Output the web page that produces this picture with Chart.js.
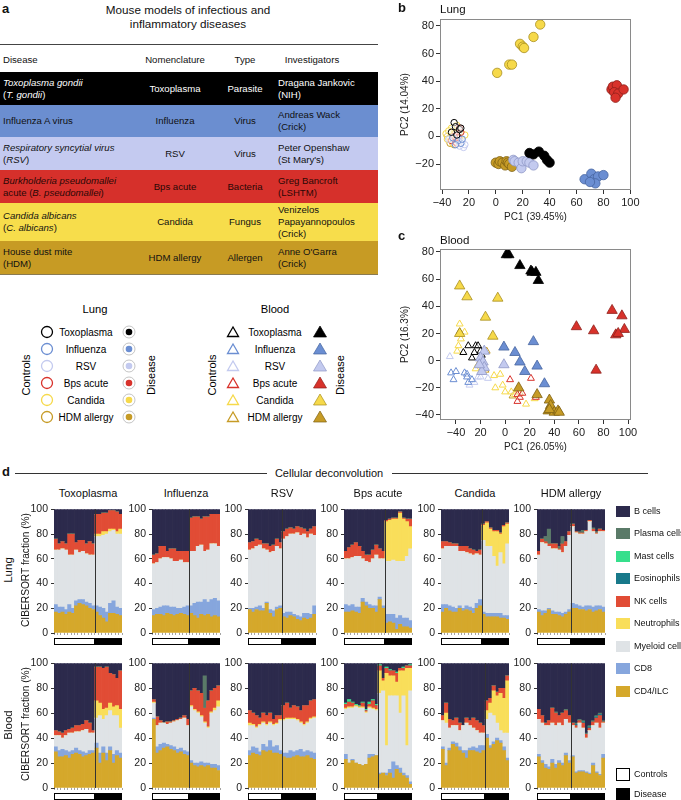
<!DOCTYPE html>
<html>
<head>
<meta charset="utf-8">
<script src="https://cdn.jsdelivr.net/npm/chart.js@4.4.0/dist/chart.umd.min.js"></script>
<style>
  body { margin: 0; background: #fff; font-family: "Liberation Sans", Arial, sans-serif; color: #111; }
  #wrap { position: relative; width: 681px; height: 800px; overflow: hidden; }
  .t { position: absolute; white-space: nowrap; line-height: 1.15; }
  canvas { position: absolute; }
  .row { position: absolute; left: 0; width: 378px; font-size: 9.6px; line-height: 12px; }
  .cell { position: absolute; top: 0; height: 100%; display: flex; align-items: center; }
  .c { justify-content: center; text-align: center; }
  .sw { position: absolute; width: 14px; height: 11px; }
</style>
</head>
<body>
<div id="wrap">
  <!-- panel a: table -->
  <div class="t" style="left:2px;top:9px;transform:translateY(-50%);font-weight:bold;font-size:13px">a</div>
  <div class="t" style="left:188px;top:17px;transform:translate(-50%,-50%);text-align:center;font-size:11.7px;line-height:14px">Mouse models of infectious and<br>inflammatory diseases</div>
  <div style="position:absolute;left:0;top:44px;width:378px;height:1px;background:#444"></div>
  <div class="row" style="top:50px;height:20px">
    <div class="cell" style="left:3px">Disease</div>
    <div class="cell c" style="left:135px;width:80px">Nomenclature</div>
    <div class="cell c" style="left:215px;width:60px">Type</div>
    <div class="cell c" style="left:262px;width:100px">Investigators</div>
  </div>
  <div class="row" style="top:72px;height:33px;background:#000;color:#fff">
    <div class="cell" style="left:3px"><span><i>Toxoplasma gondii</i><br>(<i>T. gondii</i>)</span></div>
    <div class="cell c" style="left:135px;width:80px">Toxoplasma</div>
    <div class="cell c" style="left:215px;width:60px">Parasite</div>
    <div class="cell" style="left:278px"><span>Dragana Jankovic<br>(NIH)</span></div>
  </div>
  <div class="row" style="top:105px;height:32px;background:#6b8ed0">
    <div class="cell" style="left:3px">Influenza A virus</div>
    <div class="cell c" style="left:135px;width:80px">Influenza</div>
    <div class="cell c" style="left:215px;width:60px">Virus</div>
    <div class="cell" style="left:278px"><span>Andreas Wack<br>(Crick)</span></div>
  </div>
  <div class="row" style="top:137px;height:33px;background:#c4caf0">
    <div class="cell" style="left:3px"><span><i>Respiratory syncytial virus</i><br>(<i>RSV</i>)</span></div>
    <div class="cell c" style="left:135px;width:80px">RSV</div>
    <div class="cell c" style="left:215px;width:60px">Virus</div>
    <div class="cell" style="left:278px"><span>Peter Openshaw<br>(St Mary's)</span></div>
  </div>
  <div class="row" style="top:170px;height:33px;background:#d6302b;color:#2a0806">
    <div class="cell" style="left:3px"><span><i>Burkholderia pseudomallei</i><br>acute (<i>B. pseudomallei</i>)</span></div>
    <div class="cell c" style="left:135px;width:80px">Bps acute</div>
    <div class="cell c" style="left:215px;width:60px">Bacteria</div>
    <div class="cell" style="left:278px"><span>Greg Bancroft<br>(LSHTM)</span></div>
  </div>
  <div class="row" style="top:203px;height:38px;background:#f7dd4b">
    <div class="cell" style="left:3px"><span><i>Candida albicans</i><br>(<i>C. albicans</i>)</span></div>
    <div class="cell c" style="left:135px;width:80px">Candida</div>
    <div class="cell c" style="left:215px;width:60px">Fungus</div>
    <div class="cell" style="left:278px"><span>Venizelos<br>Papayannopoulos<br>(Crick)</span></div>
  </div>
  <div class="row" style="top:241px;height:33px;background:#c79b24;border-bottom:1px solid #8a7a50">
    <div class="cell" style="left:3px"><span>House dust mite<br>(HDM)</span></div>
    <div class="cell c" style="left:135px;width:80px">HDM allergy</div>
    <div class="cell c" style="left:215px;width:60px">Allergen</div>
    <div class="cell" style="left:278px"><span>Anne O'Garra<br>(Crick)</span></div>
  </div>

  <!-- legend for b / c -->
  <svg id="pcaLegend" width="380" height="140" style="position:absolute;left:0;top:290px"
       font-family="Liberation Sans, Arial, sans-serif" font-size="10"></svg>

  <!-- panels b, c -->
  <canvas id="pcaLung" width="250" height="225" style="left:395px;top:0"></canvas>
  <canvas id="pcaBlood" width="250" height="225" style="left:395px;top:230px"></canvas>
</div>

<script>
// ---------- panel b / c data (PC1, PC2) ----------
const groups = ['Toxoplasma', 'Influenza', 'RSV', 'Bps acute', 'Candida', 'HDM allergy'];
const groupColors = ['#000000', '#6b8ed2', '#c3caef', '#d8322b', '#f6d94a', '#c69b26'];
const groupEdges = ['#000000', '#46659f', '#8f98c6', '#8e1f1a', '#a88e1e', '#7f6214'];

const lungDisease = [
  [[25,-12],[28,-13],[32,-11],[36,-14],[38,-17],[40,-19]],
  [[66,-31],[71,-27],[73,-31],[76,-29],[80,-28],[74,-34],[70,-33]],
  [[13,-17],[14,-18],[17,-19],[19,-23],[20,-18],[23,-18],[25,-19],[28,-21]],
  [[86,34],[87,36],[90,37],[88,32],[91,31],[95,34],[89,28]],
  [[1,46],[10,52],[12,52],[18,67],[20,65],[21,64],[28,72],[33,81]],
  [[0,-19],[2,-20],[3,-18],[5,-19],[7,-21],[8,-18],[9,-19],[10,-20],[12,-22]]
];
const lungControls = [
  [[-31,10],[-30,7],[-27,5],[-33,3],[-29,1],[-26,6]],
  [[-26,-5],[-28,-3],[-30,-6],[-25,-2],[-32,-1]],
  [[-24,-8],[-25,-4],[-27,-7],[-35,-2],[-23,-6]],
  [[-27,6],[-30,-4],[-33,-3],[-28,-1],[-26,3],[-31,0],[-29,-5]],
  [[-37,2],[-36,-2],[-33,6],[-32,-5],[-35,4],[-30,2],[-23,1],[-29,8],[-34,-1]],
  [[-34,-5],[-31,-6],[-29,-3],[-27,-1],[-33,0],[-36,0],[-30,3]]
];
const bloodDisease = [
  [[1,78],[3,78],[12,70],[21,66],[22,65],[25,65],[27,59]],
  [[-1,10],[8,6],[12,-1],[16,-8],[23,14],[26,-4],[32,-17]],
  [[-17,7],[-20,2],[-18,-1],[-17,-5],[-19,-8],[-1,-3],[-21,-3]],
  [[58,25],[72,22],[87,37],[95,33],[97,23],[90,19],[92,20],[74,-7]],
  [[-37,55],[-31,47],[-6,46],[-16,32],[-10,18],[-37,20]],
  [[11,-20],[26,-25],[36,-29],[37,-33],[35,-37],[40,-38],[43,-37],[44,-38],[36,-36]]
];
const bloodControls = [
  [[-37,21],[-34,6],[-30,11],[-27,2],[-24,11],[-22,11],[-20,7],[-25,6],[-19,4]],
  [[-44,-9],[-40,-8],[-42,-14],[-33,-9],[-31,-10],[-30,-16],[-27,-14],[-31,-12]],
  [[-45,3],[-25,-16],[-22,-12],[-20,-12],[-14,-13],[-29,-18]],
  [[4,-14],[21,-13],[10,-25],[12,-27],[10,-30],[14,-24],[25,-27]],
  [[-37,27],[-33,21],[-36,16],[-38,11],[-39,7],[-24,-6],[-9,-11],[-4,-10],[-8,-20],[-2,-18],[0,-23],[5,-23],[8,-25],[17,-32],[24,-28]],
  [[-22,-3],[-15,7],[-16,-7],[-18,-5],[6,-26],[12,-24]]
];

const pcaXTicks = [-40, -20, 0, 20, 40, 60, 80, 100];
const pcaXTickLabels = ['\u221240', '20', '0', '20', '40', '60', '80', '100'];
const lungYTicks = [-20, 0, 20, 40, 60, 80];
const lungYTickLabels = ['\u221220', '0', '20', '40', '60', '80'];
const bloodYTicks = [-40, -20, 0, 20, 40, 60, 80];
const bloodYTickLabels = ['\u221240', '\u221220', '0', '20', '40', '60', '80'];

// ---------- panel d data: cumulative tops (%) per sample, one row per model ----------
const panelNames = ['Toxoplasma', 'Influenza', 'RSV', 'Bps acute', 'Candida', 'HDM allergy'];
const sampleLabels = ['1','2','3','4','5','6','7','8','9','10','11','12','13','14','15','16','17','18','19','20'];
const lungControlsN = [12, 11, 10, 12, 12, 10];
const bloodControlsN = [12, 11, 10, 10, 13, 10];

const lungCD4Top = [
  [17,16,17,15,17,16,22,24,23,22,20,19, 17,14,12,9,16,16,15,14],
  [14,15,15,14,16,15,14,15,16,15,14, 16,14,12,15,14,15,13,14,13],
  [19,17,19,18,18,24,16,13,19,20, 13,12,14,13,11,10,12,11,12,15],
  [17,17,18,17,16,25,22,20,20,17,27,20, 8,9,8,3,7,5,5,4],
  [17,20,18,17,17,20,18,19,18,16,20,22, 15,13,13,13,13,12,12,11],
  [17,14,16,19,15,15,14,13,15,17, 20,20,19,19,18,19,17,18,19,17]
];
const lungCD8Top = [
  [23,21,21,19,23,20,26,27,27,25,24,22, 22,21,20,17,24,26,21,20],
  [19,20,21,22,22,21,21,20,20,21,22, 22,24,25,25,27,25,27,28,26],
  [20,20,21,22,20,25,19,18,21,22, 16,17,17,15,14,13,16,16,15,22],
  [23,22,23,21,21,28,25,23,22,22,29,22, 15,15,15,12,14,12,12,10],
  [23,23,22,21,20,22,20,22,21,20,24,27, 17,16,16,16,16,16,14,14],
  [19,18,18,20,18,17,17,16,17,19, 24,23,22,21,22,22,21,22,22,21]
];
const lungMyeloidTop = [
  [67,67,68,67,63,63,67,65,66,64,63,63, 78,78,79,80,82,83,80,80],
  [56,57,60,61,61,60,58,58,59,57,57, 66,66,70,71,66,67,72,72,70],
  [67,68,70,71,68,67,65,66,70,68, 76,78,80,80,81,79,80,77,80,79],
  [60,60,61,62,62,60,58,57,60,63,60,60, 58,58,59,58,58,58,62,68],
  [68,70,70,70,70,66,66,65,64,63,64,63, 75,70,70,62,54,65,56,72],
  [63,73,72,70,68,68,67,65,70,79, 86,81,80,80,82,90,82,80,82,82]
];
const lungNeutroTop = [
  [67,67,68,67,63,63,67,65,66,64,63,63, 80,80,82,82,84,84,82,84],
  [],
  [],
  [60,60,61,62,62,60,58,57,60,63,60,60, 90,91,92,92,97,92,90,86],
  [68,70,70,70,70,66,66,65,64,63,64,63, 87,89,84,82,82,80,86,88],
  []
];
const lungNKTop = [
  [76,72,74,72,80,80,73,75,75,72,74,72, 96,96,97,97,99,99,98,96],
  [63,64,70,70,66,68,68,66,66,66,66, 93,94,94,92,94,94,96,96,96],
  [73,74,76,75,72,72,70,71,76,73, 82,84,85,84,86,85,84,82,84,86],
  [66,69,71,73,70,66,63,63,67,71,68,66, 91,92,93,93,98,93,92,92],
  [74,74,73,72,72,70,70,70,68,67,66,67, 88,90,85,83,83,81,87,89],
  [66,76,74,72,72,72,68,72,74,82, 88,82,81,81,83,91,84,81,84,83]
];
// thin layers (%), stacked above NK cells
const lungEos = [[], [], [], [], [], []];
const lungMast = [[], [], [], [], [], []];
const lungPlasma = [[], [], [], [], [], [0,0,4,12,0,0,2,6,0,0, 0,0,1,2,0,0,1,1,0,0]];

const bloodCD4Top = [
  [29,25,25,26,24,27,28,27,25,26,27,28, 32,20,28,22,30,20,26,24],
  [55,28,30,32,33,31,30,28,29,27,26, 20,18,17,18,17,18,16,16,14],
  [26,28,27,26,30,29,30,28,28,27, 25,24,24,25,26,25,25,26,24,23],
  [23,20,22,20,19,18,19,24,25,26, 11,12,10,12,8,15,12,10,8,3],
  [31,18,30,35,33,30,28,24,30,30,29,28,30, 40,32,35,38,36,30,22],
  [25,20,16,15,20,16,20,18,26,20, 25,12,13,13,12,11,18,12,10,24]
];
const bloodCD8Top = [
  [33,30,31,30,29,30,32,30,29,28,30,30, 36,28,33,28,33,27,30,28],
  [56,33,35,36,35,34,33,31,32,30,29, 22,20,20,21,20,20,19,19,18],
  [30,33,32,29,35,33,38,33,34,30, 28,28,30,29,30,31,29,30,29,28],
  [27,20,23,20,19,18,19,27,27,26, 12,12,12,15,21,18,16,12,10,5],
  [33,20,32,37,36,33,30,30,32,33,32,34,34, 43,34,37,40,38,33,24],
  [27,22,19,17,23,19,22,20,28,22, 26,13,14,14,13,12,20,13,11,27]
];
const bloodMyeloidTop = [
  [42,42,40,42,44,44,45,45,46,47,44,44, 56,58,55,58,62,58,58,48],
  [68,50,52,52,51,52,53,54,55,56,50, 65,62,60,57,52,48,60,62,65],
  [50,50,48,50,52,50,52,50,51,54, 54,55,55,55,54,52,50,52,55,56],
  [63,64,64,65,64,64,60,64,63,62, 76,78,34,74,74,74,60,74,34,78],
  [54,52,48,50,50,46,50,52,50,48,46,44,44, 55,60,58,52,46,44,44],
  [55,52,50,50,52,50,52,50,55,52, 50,48,52,48,40,46,50,52,48,52]
];
const bloodNeutroTop = [
  [42,42,40,42,44,44,45,45,46,47,44,44, 70,68,63,64,68,65,66,63],
  [69,50,52,52,51,52,53,54,55,56,50, 66,63,61,58,53,49,61,64,70],
  [52,51,49,51,53,51,53,51,52,55, 55,56,56,56,55,53,51,53,56,57],
  [64,65,65,66,65,65,61,65,64,63, 94,86,92,90,90,85,94,94,96,96],
  [54,60,48,50,50,46,50,52,50,48,46,44,44, 62,68,78,74,76,72,86],
  []
];
const bloodNKTop = [
  [46,45,44,46,47,48,50,50,51,54,52,46, 97,97,96,97,92,91,88,94],
  [71,57,54,52,53,53,54,55,56,58,55, 78,80,78,76,64,70,78,80,82],
  [62,60,58,56,60,58,60,55,58,58, 66,68,64,66,65,62,66,66,70,71],
  [67,69,68,66,62,68,62,67,70,66, 98,88,96,94,94,92,96,96,98,98],
  [58,68,55,54,56,52,50,56,54,56,54,52,50, 70,72,82,77,80,80,90],
  [63,58,52,54,64,60,58,60,62,58, 52,50,54,52,43,48,53,56,58,53]
];
const bloodEos = [[], [], [], [], [], [0,0,0,0,0,0,0,0,0,0, 0,1,0,1,0,1,0,1,1,0]];
const bloodMast = [[], [], [], [1,2,1,1,1,1,1,2,1,1, 1,0,1,1,0,1,0,1,0,1], [], []];
const bloodPlasma = [[], [0,0,0,0,0,0,0,0,0,0,0, 0,0,0,0,26,0,0,0,0], [], [], [], [0,0,0,0,0,1,0,0,1,0, 0,1,1,1,1,1,1,1,1,1]];

const cellTypes = ['CD4/ILC', 'CD8', 'Myeloid cells', 'Neutrophils', 'NK cells', 'Eosinophils', 'Mast cells', 'Plasma cells', 'B cells'];
const cellColors = ['#d5a82b', '#86a6dd', '#dfe3e6', '#f9de5a', '#e14c35', '#18798a', '#36df8c', '#5a7a68', '#2c2a4c'];

// ---------- helpers ----------
const wrap = document.getElementById('wrap');
Chart.defaults.font.family = '"Liberation Sans", Arial, sans-serif';
Chart.defaults.color = '#222';

function addText(html, x, y, o = {}) {
  const d = document.createElement('div');
  d.className = 't';
  d.innerHTML = html;
  d.style.left = x + 'px';
  d.style.top = y + 'px';
  d.style.fontSize = (o.size || 11) + 'px';
  if (o.bold) d.style.fontWeight = 'bold';
  const tx = o.align === 'left' ? '0' : (o.align === 'right' ? '-100%' : '-50%');
  d.style.transform = 'translate(' + tx + ',-50%)' + (o.rot ? ' rotate(-90deg)' : '');
  wrap.appendChild(d);
  return d;
}

// legend of b and c
(function () {
  const svg = document.getElementById('pcaLegend');
  const rows = [42, 59, 76, 93, 110, 127];
  let s = '';
  s += '<text x="95" y="19" text-anchor="middle" dominant-baseline="central" font-size="11.2">Lung</text>';
  s += '<text x="275" y="19" text-anchor="middle" dominant-baseline="central" font-size="11.2">Blood</text>';
  s += '<text transform="translate(26,85) rotate(-90)" text-anchor="middle" dominant-baseline="central" font-size="11">Controls</text>';
  s += '<text transform="translate(151,85) rotate(-90)" text-anchor="middle" dominant-baseline="central" font-size="11">Disease</text>';
  s += '<text transform="translate(212,85) rotate(-90)" text-anchor="middle" dominant-baseline="central" font-size="11">Controls</text>';
  s += '<text transform="translate(340,85) rotate(-90)" text-anchor="middle" dominant-baseline="central" font-size="11">Disease</text>';
  rows.forEach((y, g) => {
    const c = groupColors[g];
    s += '<circle cx="47" cy="' + y + '" r="5.5" fill="none" stroke="' + c + '" stroke-width="1.3"/>';
    s += '<text x="86" y="' + y + '" text-anchor="middle" dominant-baseline="central">' + groups[g] + '</text>';
    s += '<circle cx="129" cy="' + y + '" r="6" fill="#fff" stroke="#aaa" stroke-width="0.7"/>';
    s += '<circle cx="129" cy="' + y + '" r="3.3" fill="' + c + '"/>';
    s += '<path d="M233 ' + (y - 5) + ' L227.5 ' + (y + 4.5) + ' L238.5 ' + (y + 4.5) + ' Z" fill="none" stroke="' + c + '" stroke-width="1.3"/>';
    s += '<text x="275" y="' + y + '" text-anchor="middle" dominant-baseline="central">' + groups[g] + '</text>';
    s += '<path d="M320 ' + (y - 6) + ' L313.5 ' + (y + 5) + ' L326.5 ' + (y + 5) + ' Z" fill="' + c + '" stroke="' + groupEdges[g] + '" stroke-width="0.7"/>';
  });
  svg.innerHTML = s;
})();

// ---------- PCA scatter plots ----------
const framePlugin = {
  id: 'frame',
  afterDraw(chart) {
    const { ctx, chartArea: a } = chart;
    ctx.save();
    ctx.strokeStyle = '#8a8a8a';
    ctx.lineWidth = 1;
    ctx.strokeRect(Math.round(a.left) + 0.5, Math.round(a.top) + 0.5, Math.round(a.right - a.left) - 1, Math.round(a.bottom - a.top) - 1);
    ctx.restore();
  }
};

function pcaChart(id, controls, disease, shape, rCtrl, rDis, xMin, xMax, yMin, yMax, yTicks, yLabels, xTitle, yTitle) {
  const datasets = [];
  disease.forEach((pts, g) => datasets.push({
    label: groups[g] + ' disease',
    data: pts.map(p => ({ x: p[0], y: p[1] })),
    pointStyle: shape, pointRadius: rDis,
    backgroundColor: groupColors[g], borderColor: groupEdges[g], borderWidth: 0.8
  }));
  controls.forEach((pts, g) => datasets.push({
    label: groups[g] + ' controls',
    data: pts.map(p => ({ x: p[0], y: p[1] })),
    pointStyle: shape, pointRadius: rCtrl,
    backgroundColor: 'rgba(255,255,255,0.5)', borderColor: groupColors[g], borderWidth: 1
  }));
  const font = { size: 11 };
  const titleFont = { size: 10 };
  new Chart(document.getElementById(id), {
    type: 'scatter',
    data: { datasets },
    options: {
      responsive: false, animation: false, devicePixelRatio: 1,
      layout: { padding: { top: 19, right: 14, left: 0, bottom: 0 } },
      plugins: { legend: { display: false }, tooltip: { enabled: false } },
      scales: {
        x: {
          type: 'linear', min: xMin, max: xMax,
          afterBuildTicks: s => { s.ticks = pcaXTicks.map(v => ({ value: v })); },
          afterFit: s => { s.height = 35; },
          ticks: { font, color: '#222', padding: 2, maxRotation: 0, autoSkip: false, callback: (v, i) => pcaXTickLabels[i] },
          grid: { drawOnChartArea: false, tickLength: 4, color: '#333' },
          border: { display: false },
          title: { display: true, text: xTitle, font: titleFont, color: '#222', padding: { top: 0, bottom: 2 } }
        },
        y: {
          type: 'linear', min: yMin, max: yMax,
          afterBuildTicks: s => { s.ticks = yTicks.map(v => ({ value: v })); },
          afterFit: s => { s.width = 45; },
          ticks: { font, color: '#222', padding: 2, autoSkip: false, callback: (v, i) => yLabels[i] },
          grid: { drawOnChartArea: false, tickLength: 4, color: '#333' },
          border: { display: false },
          title: { display: true, text: yTitle, font: titleFont, color: '#222' }
        }
      }
    },
    plugins: [framePlugin]
  });
}

pcaChart('pcaLung', lungControls, lungDisease, 'circle', 3.2, 4.7, -41.5, 100.5, -38.8, 85,
  lungYTicks, lungYTickLabels, 'PC1 (39.45%)', 'PC2 (14.04%)');
pcaChart('pcaBlood', bloodControls, bloodDisease, 'triangle', 4, 6, -53, 102.4, -43.7, 82.2,
  bloodYTicks, bloodYTickLabels, 'PC1 (26.05%)', 'PC2 (16.3%)');

addText('b', 398, 8, { bold: true, size: 13, align: 'left' });
addText('Lung', 440, 10, { size: 11.5, align: 'left' });
addText('c', 398, 236, { bold: true, size: 13, align: 'left' });
addText('Blood', 440, 241, { size: 11.5, align: 'left' });

// ---------- panel d ----------
addText('d', 2, 472, { bold: true, size: 13, align: 'left' });
addText('Cellular deconvolution', 329, 473, { size: 11 });
[[15, 267], [392, 648]].forEach(([a, b]) => {
  const l = document.createElement('div');
  l.style.cssText = 'position:absolute;top:473px;height:1px;background:#333;left:' + a + 'px;width:' + (b - a) + 'px';
  wrap.appendChild(l);
});

const lungSet = { cd4: lungCD4Top, cd8: lungCD8Top, mye: lungMyeloidTop, neu: lungNeutroTop, nk: lungNKTop, eos: lungEos, mast: lungMast, plasma: lungPlasma, nCtrl: lungControlsN };
const bloodSet = { cd4: bloodCD4Top, cd8: bloodCD8Top, mye: bloodMyeloidTop, neu: bloodNeutroTop, nk: bloodNKTop, eos: bloodEos, mast: bloodMast, plasma: bloodPlasma, nCtrl: bloodControlsN };

function panelLayers(T, p) {
  const cd4 = T.cd4[p], cd8 = T.cd8[p], mye = T.mye[p], nk = T.nk[p];
  const neu = T.neu[p].length ? T.neu[p] : mye;
  const pick = (arr, i) => (arr[p].length ? arr[p][i] : 0);
  const L = [[], [], [], [], [], [], [], [], []];
  for (let i = 0; i < cd4.length; i++) {
    const e = pick(T.eos, i), m = pick(T.mast, i), pl = pick(T.plasma, i);
    L[0].push(cd4[i]);
    L[1].push(Math.max(0, cd8[i] - cd4[i]));
    L[2].push(Math.max(0, mye[i] - cd8[i]));
    L[3].push(Math.max(0, neu[i] - mye[i]));
    L[4].push(Math.max(0, nk[i] - neu[i]));
    L[5].push(e);
    L[6].push(m);
    L[7].push(pl);
    L[8].push(Math.max(0, 100 - nk[i] - e - m - pl));
  }
  return L;
}

const stripPlugin = {
  id: 'groupStrip',
  afterDatasetsDraw(chart, args, opts) {
    const { ctx, chartArea: a, scales: { x } } = chart;
    const n = opts.nCtrl, total = chart.data.labels.length;
    const xs = x.getPixelForValue(-0.5), xm = x.getPixelForValue(n - 0.5), xe = x.getPixelForValue(total - 0.5);
    ctx.save();
    ctx.strokeStyle = '#333';
    ctx.lineWidth = 1;
    ctx.beginPath();
    ctx.moveTo(Math.round(xm) + 0.5, a.top);
    ctx.lineTo(Math.round(xm) + 0.5, a.bottom);
    ctx.stroke();
    const y0 = Math.round(a.bottom) + 5;
    ctx.fillStyle = '#000';
    ctx.fillRect(Math.round(xm), y0, Math.round(xe - xm), 7);
    ctx.fillStyle = '#fff';
    ctx.fillRect(Math.round(xs) + 0.5, y0 + 0.5, Math.round(xm - xs) - 1, 6);
    ctx.strokeStyle = '#000';
    ctx.strokeRect(Math.round(xs) + 0.5, y0 + 0.5, Math.round(xm - xs) - 1, 6);
    ctx.restore();
  }
};

const plotLefts = [54, 152, 248, 344, 441, 537];
const plotW = 68;

function cellChart(T, p, plotTop, plotH) {
  const cv = document.createElement('canvas');
  cv.width = 28 + plotW + 1;
  cv.height = 7 + plotH + 14;
  cv.style.left = (plotLefts[p] - 28) + 'px';
  cv.style.top = (plotTop - 7) + 'px';
  wrap.appendChild(cv);
  const L = panelLayers(T, p);
  new Chart(cv, {
    type: 'bar',
    data: {
      labels: sampleLabels.slice(0, L[0].length),
      datasets: L.map((vals, k) => ({
        label: cellTypes[k], data: vals, backgroundColor: cellColors[k],
        borderWidth: 0, barPercentage: 1, categoryPercentage: 1
      }))
    },
    options: {
      responsive: false, animation: false, devicePixelRatio: 1,
      layout: { padding: { top: 7, right: 1, left: 0, bottom: 0 } },
      plugins: { legend: { display: false }, tooltip: { enabled: false }, groupStrip: { nCtrl: T.nCtrl[p] } },
      scales: {
        x: {
          stacked: true,
          afterFit: s => { s.height = 14; },
          ticks: { display: false },
          grid: { drawOnChartArea: false, tickLength: 2, color: '#666', lineWidth: 0.6 },
          border: { display: false }
        },
        y: {
          stacked: true, min: 0, max: 100,
          afterFit: s => { s.width = 28; },
          ticks: { stepSize: 20, font: { size: 10.5 }, color: '#222', padding: 3 },
          grid: { drawOnChartArea: false, tickLength: 3, color: '#333' },
          border: { color: '#444' }
        }
      }
    },
    plugins: [stripPlugin]
  });
}

for (let p = 0; p < 6; p++) {
  cellChart(lungSet, p, 507, 126);
  cellChart(bloodSet, p, 661, 127);
  addText(panelNames[p], plotLefts[p] + plotW / 2, 493, { size: 11 });
}

addText('Lung', 9, 570, { size: 11.5, rot: true });
addText('CIBERSORT fraction (%)', 26, 570, { size: 10.2, rot: true });
addText('Blood', 9, 725, { size: 11.5, rot: true });
addText('CIBERSORT fraction (%)', 26, 724, { size: 10.2, rot: true });

// legend of d
const legendOrder = [8, 7, 6, 5, 4, 3, 2, 1, 0];
const legendY = [511, 533, 556, 578, 601, 623, 646, 668, 691];
legendOrder.forEach((k, j) => {
  const sq = document.createElement('div');
  sq.className = 'sw';
  sq.style.left = '616px';
  sq.style.top = (legendY[j] - 5.5) + 'px';
  sq.style.background = cellColors[k];
  wrap.appendChild(sq);
  addText(cellTypes[k], 634, legendY[j], { size: 9, align: 'left' });
});
[['Controls', '#fff', 774], ['Disease', '#000', 794]].forEach(([name, col, y]) => {
  const sq = document.createElement('div');
  sq.style.cssText = 'position:absolute;left:616px;width:12px;height:11px;border:1px solid #000;top:' + (y - 6.5) + 'px;background:' + col;
  wrap.appendChild(sq);
  addText(name, 634, y, { size: 9, align: 'left' });
});
</script>
</body>
</html>
